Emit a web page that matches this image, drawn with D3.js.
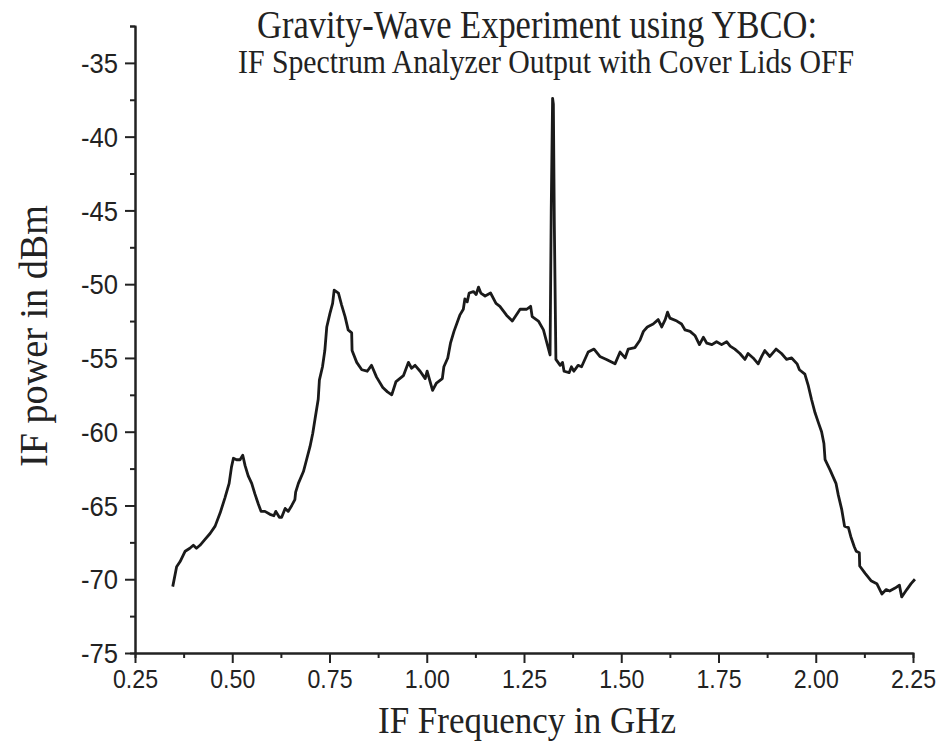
<!DOCTYPE html>
<html>
<head>
<meta charset="utf-8">
<script src="https://cdn.jsdelivr.net/npm/d3@7"></script>
<style>
  body { margin: 0; background: #fff; }
  svg { display: block; }
</style>
</head>
<body>
<div id="chart"></div>
<script>
var freq = [
	0.347,0.357,0.366,0.379,0.391,0.400,0.408,0.417,0.430,0.443,
	0.456,0.469,0.481,0.492,0.498,0.503,0.511,0.520,0.527,0.533,
	0.541,0.550,0.558,0.567,0.574,0.584,0.597,0.607,0.612,0.621,
	0.627,0.636,0.644,0.653,0.661,0.663,0.670,0.683,0.691,0.700,
	0.707,0.713,0.721,0.724,
	0.732,0.738,0.743,0.751,0.758,0.762,0.773,0.781,0.790,0.798,
	0.807,0.808,0.820,0.833,0.847,0.858,0.871,0.887,0.899,0.910,
	0.921,0.940,0.953,0.961,0.970,0.983,0.996,1.001,1.015,1.025,
	1.040,1.044,1.054,1.061,1.070,1.085,1.094,1.098,1.104,1.109,
	1.120,1.127,1.133,1.139,1.150,1.164,1.178,1.188,1.205,1.220,
	1.240,1.257,1.267,1.271,1.287,1.300,1.317,
	1.320,1.3235,1.3255,1.328,1.332,1.343,
	1.349,1.353,1.366,1.372,1.378,1.389,1.398,1.415,1.430,1.445,
	1.462,1.484,1.497,1.510,1.518,1.535,1.548,1.557,1.567,1.582,
	1.595,1.604,1.613,1.619,1.625,1.643,1.655,1.664,1.677,1.690,
	1.701,1.711,1.720,1.733,1.745,1.758,1.771,1.780,1.792,1.805,
	1.818,1.826,1.839,1.852,1.861,1.869,1.882,1.898,1.912,1.925,
	1.938,1.952,1.958,1.972,1.981,1.989,1.998,2.007,
	2.015,2.021,2.024,2.037,2.052,2.058,2.067,2.074,2.084,2.090,
	2.099,2.104,2.112,2.113,2.127,2.142,2.157,2.170,2.181,2.190,
	2.204,2.215,2.221,2.234,2.245,2.255
];
var power = [
	-70.5,-69.15,-68.8,-68.1,-67.9,-67.7,-67.9,-67.7,-67.3,-66.9,
	-66.4,-65.5,-64.5,-63.5,-62.4,-61.8,-61.9,-61.9,-61.6,-62.3,
	-63.0,-63.5,-64.2,-64.9,-65.4,-65.4,-65.6,-65.7,-65.4,-65.8,
	-65.8,-65.2,-65.4,-65.0,-64.6,-64.1,-63.5,-62.7,-61.9,-61.0,
	-60.1,-59.1,-57.8,-56.5,
	-55.6,-54.5,-52.9,-52.0,-51.3,-50.4,-50.6,-51.4,-52.2,-53.1,
	-53.3,-54.5,-55.3,-55.8,-55.9,-55.5,-56.3,-57.0,-57.3,-57.5,
	-56.6,-56.2,-55.3,-55.7,-55.5,-55.9,-56.4,-55.9,-57.2,-56.7,
	-56.4,-55.6,-55.0,-54.0,-53.2,-52.1,-51.7,-51.0,-51.2,-50.6,
	-50.5,-50.7,-50.2,-50.6,-50.8,-50.6,-51.3,-51.5,-52.1,-52.5,
	-51.7,-51.7,-51.5,-52.2,-52.5,-53.1,-54.8,
	-45.0,-37.4,-37.8,-46.0,-55.1,-55.5,
	-55.3,-55.9,-56.0,-55.6,-55.9,-55.5,-55.6,-54.6,-54.4,-54.9,
	-55.1,-55.4,-54.6,-55.0,-54.4,-54.3,-53.8,-53.2,-52.9,-52.7,
	-52.4,-52.9,-52.4,-51.9,-52.3,-52.5,-52.7,-53.1,-53.2,-53.5,
	-54.1,-53.6,-54.0,-54.1,-53.9,-54.1,-53.9,-54.2,-54.4,-54.7,
	-55.1,-54.7,-55.0,-55.4,-54.9,-54.5,-54.9,-54.4,-54.7,-55.1,
	-55.0,-55.4,-55.8,-56.1,-56.9,-57.8,-58.7,-59.4,
	-60.0,-60.8,-61.9,-62.6,-63.5,-64.3,-65.3,-66.4,-66.5,-67.1,
	-67.8,-68.1,-68.2,-69.1,-69.6,-70.1,-70.3,-71.0,-70.7,-70.8,
	-70.6,-70.4,-71.2,-70.7,-70.3,-70.0
];

var xTicks = [0.25,0.50,0.75,1.00,1.25,1.50,1.75,2.00,2.25];
var xMinor = [0.375,0.625,0.875,1.125,1.375,1.625,1.875,2.125];
var yTicks = [-75,-70,-65,-60,-55,-50,-45,-40,-35];
var yMinor = [-72.5,-67.5,-62.5,-57.5,-52.5,-47.5,-42.5,-37.5,-32.5];

var title = "Gravity-Wave Experiment using YBCO:";
var subtitle = "IF Spectrum Analyzer Output with Cover Lids OFF";
var xLabel = "IF Frequency in GHz";
var yLabel = "IF power in dBm";

var width = 943;
var height = 755;
var plotLeft = 135, plotRight = 913, plotTop = 26, plotBottom = 653;

var svg = d3.select("#chart")
	.append("svg")
	.attr("width", width)
	.attr("height", height);

var x = d3.scaleLinear().domain([0.25, 2.25]).range([plotLeft, plotRight]);
var y = d3.scaleLinear().domain([-75, -32.5]).range([plotBottom, plotTop]);

var sans = "'Liberation Sans', Arial, sans-serif";
var serif = "'Liberation Serif', 'Times New Roman', serif";

// minor ticks first, then the major axes on top
svg.append("g")
	.attr("transform", "translate(0," + plotBottom + ")")
	.call(d3.axisBottom(x).tickValues(xMinor).tickSize(5).tickFormat(""));
svg.append("g")
	.attr("transform", "translate(" + plotLeft + ",0)")
	.call(d3.axisLeft(y).tickValues(yMinor).tickSize(5).tickFormat(""));

var xAxis = svg.append("g")
	.attr("transform", "translate(0," + plotBottom + ")")
	.call(d3.axisBottom(x).tickValues(xTicks).tickSize(10).tickSizeOuter(0)
		.tickPadding(7).tickFormat(d3.format(".2f")));
var yAxis = svg.append("g")
	.attr("transform", "translate(" + plotLeft + ",0)")
	.call(d3.axisLeft(y).tickValues(yTicks).tickSize(10).tickSizeOuter(0)
		.tickPadding(7).tickFormat(function(d) { return String(d); }));

svg.selectAll(".domain, .tick line")
	.attr("stroke", "#222")
	.attr("stroke-width", 2);

// tick labels are narrow and tall in the original
xAxis.selectAll("text")
	.attr("fill", "#222")
	.attr("textLength", 45)
	.attr("lengthAdjust", "spacingAndGlyphs")
	.style("font-family", sans)
	.style("font-size", "26px");
yAxis.selectAll("text")
	.attr("fill", "#222")
	.attr("dy", "0.36em")
	.attr("textLength", 37)
	.attr("lengthAdjust", "spacingAndGlyphs")
	.style("font-family", sans)
	.style("font-size", "27px");

var line = d3.line()
	.x(function(d) { return x(d[0]); })
	.y(function(d) { return y(d[1]); });

svg.append("path")
	.datum(d3.zip(freq, power))
	.attr("d", line)
	.attr("fill", "none")
	.attr("stroke", "#1a1a1a")
	.attr("stroke-width", 2.8)
	.attr("stroke-linejoin", "round");

svg.append("text")
	.attr("x", 537).attr("y", 38)
	.attr("text-anchor", "middle")
	.attr("textLength", 560)
	.attr("lengthAdjust", "spacingAndGlyphs")
	.style("font-family", serif)
	.style("font-size", "40px")
	.attr("fill", "#222")
	.text(title);

svg.append("text")
	.attr("x", 546).attr("y", 73)
	.attr("text-anchor", "middle")
	.attr("textLength", 616)
	.attr("lengthAdjust", "spacingAndGlyphs")
	.style("font-family", serif)
	.style("font-size", "33px")
	.attr("fill", "#222")
	.text(subtitle);

svg.append("text")
	.attr("x", 527).attr("y", 733)
	.attr("text-anchor", "middle")
	.attr("textLength", 298)
	.attr("lengthAdjust", "spacingAndGlyphs")
	.style("font-family", serif)
	.style("font-size", "38px")
	.attr("fill", "#222")
	.text(xLabel);

svg.append("text")
	.attr("transform", "translate(47,336) rotate(-90)")
	.attr("text-anchor", "middle")
	.attr("textLength", 262)
	.attr("lengthAdjust", "spacingAndGlyphs")
	.style("font-family", serif)
	.style("font-size", "39px")
	.attr("fill", "#222")
	.text(yLabel);
</script>
</body>
</html>
